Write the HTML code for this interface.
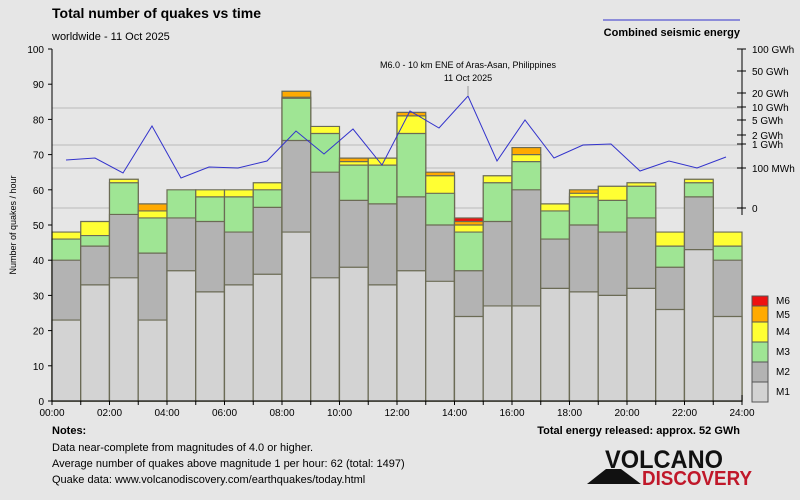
<!DOCTYPE html>
<html><head><style>body{margin:0;background:#e6e6e6}svg{display:block;font-family:"Liberation Sans",sans-serif}</style></head><body>
<svg width="800" height="500" xmlns="http://www.w3.org/2000/svg">
<rect width="800" height="500" fill="#e6e6e6"/>
<text x="52" y="18" font-size="14" font-weight="bold" fill="#000">Total number of quakes vs time</text>
<text x="52" y="40" font-size="11">worldwide - 11 Oct 2025</text>
<line x1="603" y1="20" x2="740" y2="20" stroke="#3333cc"/>
<text x="740" y="36" font-size="11" font-weight="bold" text-anchor="end">Combined seismic energy</text>
<g stroke="#d0d0d0" stroke-width="2"><line x1="52" y1="108" x2="742" y2="108"/><line x1="52" y1="145" x2="742" y2="145"/><line x1="52" y1="168" x2="742" y2="168"/><line x1="52" y1="208" x2="742" y2="208"/></g>
<defs><style>.r{fill:#ee1111}.o{fill:#ffaa00}.y{fill:#ffff33}.g{fill:#9fe594}.m{fill:#b3b3b3}.l{fill:#d3d3d3}.b rect{stroke:#6b6b55;stroke-width:1.2;vector-effect:non-scaling-stroke}</style></defs>
<g class="b" transform="translate(0,401) scale(1,-3.52)">
<g transform="translate(52,0)"><rect class="y" width="28.75" height="48"/><rect class="g" width="28.75" height="46"/><rect class="m" width="28.75" height="40"/><rect class="l" width="28.75" height="23"/></g>
<g transform="translate(80.75,0)"><rect class="y" width="28.75" height="51"/><rect class="g" width="28.75" height="47"/><rect class="m" width="28.75" height="44"/><rect class="l" width="28.75" height="33"/></g>
<g transform="translate(109.5,0)"><rect class="y" width="28.75" height="63"/><rect class="g" width="28.75" height="62"/><rect class="m" width="28.75" height="53"/><rect class="l" width="28.75" height="35"/></g>
<g transform="translate(138.25,0)"><rect class="o" width="28.75" height="56"/><rect class="y" width="28.75" height="54"/><rect class="g" width="28.75" height="52"/><rect class="m" width="28.75" height="42"/><rect class="l" width="28.75" height="23"/></g>
<g transform="translate(167,0)"><rect class="g" width="28.75" height="60"/><rect class="m" width="28.75" height="52"/><rect class="l" width="28.75" height="37"/></g>
<g transform="translate(195.75,0)"><rect class="y" width="28.75" height="60"/><rect class="g" width="28.75" height="58"/><rect class="m" width="28.75" height="51"/><rect class="l" width="28.75" height="31"/></g>
<g transform="translate(224.5,0)"><rect class="y" width="28.75" height="60"/><rect class="g" width="28.75" height="58"/><rect class="m" width="28.75" height="48"/><rect class="l" width="28.75" height="33"/></g>
<g transform="translate(253.25,0)"><rect class="y" width="28.75" height="62"/><rect class="g" width="28.75" height="60"/><rect class="m" width="28.75" height="55"/><rect class="l" width="28.75" height="36"/></g>
<g transform="translate(282,0)"><rect class="o" width="28.75" height="88"/><rect class="y" width="28.75" height="86.3"/><rect class="g" width="28.75" height="86"/><rect class="m" width="28.75" height="74"/><rect class="l" width="28.75" height="48"/></g>
<g transform="translate(310.75,0)"><rect class="y" width="28.75" height="78"/><rect class="g" width="28.75" height="76"/><rect class="m" width="28.75" height="65"/><rect class="l" width="28.75" height="35"/></g>
<g transform="translate(339.5,0)"><rect class="o" width="28.75" height="69"/><rect class="y" width="28.75" height="68"/><rect class="g" width="28.75" height="67"/><rect class="m" width="28.75" height="57"/><rect class="l" width="28.75" height="38"/></g>
<g transform="translate(368.25,0)"><rect class="y" width="28.75" height="69"/><rect class="g" width="28.75" height="67"/><rect class="m" width="28.75" height="56"/><rect class="l" width="28.75" height="33"/></g>
<g transform="translate(397,0)"><rect class="o" width="28.75" height="82"/><rect class="y" width="28.75" height="81"/><rect class="g" width="28.75" height="76"/><rect class="m" width="28.75" height="58"/><rect class="l" width="28.75" height="37"/></g>
<g transform="translate(425.75,0)"><rect class="o" width="28.75" height="65"/><rect class="y" width="28.75" height="64"/><rect class="g" width="28.75" height="59"/><rect class="m" width="28.75" height="50"/><rect class="l" width="28.75" height="34"/></g>
<g transform="translate(454.5,0)"><rect class="r" width="28.75" height="52"/><rect class="o" width="28.75" height="51"/><rect class="y" width="28.75" height="50"/><rect class="g" width="28.75" height="48"/><rect class="m" width="28.75" height="37"/><rect class="l" width="28.75" height="24"/></g>
<g transform="translate(483.25,0)"><rect class="y" width="28.75" height="64"/><rect class="g" width="28.75" height="62"/><rect class="m" width="28.75" height="51"/><rect class="l" width="28.75" height="27"/></g>
<g transform="translate(512,0)"><rect class="o" width="28.75" height="72"/><rect class="y" width="28.75" height="70"/><rect class="g" width="28.75" height="68"/><rect class="m" width="28.75" height="60"/><rect class="l" width="28.75" height="27"/></g>
<g transform="translate(540.75,0)"><rect class="y" width="28.75" height="56"/><rect class="g" width="28.75" height="54"/><rect class="m" width="28.75" height="46"/><rect class="l" width="28.75" height="32"/></g>
<g transform="translate(569.5,0)"><rect class="o" width="28.75" height="60"/><rect class="y" width="28.75" height="59"/><rect class="g" width="28.75" height="58"/><rect class="m" width="28.75" height="50"/><rect class="l" width="28.75" height="31"/></g>
<g transform="translate(598.25,0)"><rect class="y" width="28.75" height="61"/><rect class="g" width="28.75" height="57"/><rect class="m" width="28.75" height="48"/><rect class="l" width="28.75" height="30"/></g>
<g transform="translate(627,0)"><rect class="y" width="28.75" height="62"/><rect class="g" width="28.75" height="61"/><rect class="m" width="28.75" height="52"/><rect class="l" width="28.75" height="32"/></g>
<g transform="translate(655.75,0)"><rect class="y" width="28.75" height="48"/><rect class="g" width="28.75" height="44"/><rect class="m" width="28.75" height="38"/><rect class="l" width="28.75" height="26"/></g>
<g transform="translate(684.5,0)"><rect class="y" width="28.75" height="63"/><rect class="g" width="28.75" height="62"/><rect class="m" width="28.75" height="58"/><rect class="l" width="28.75" height="43"/></g>
<g transform="translate(713.25,0)"><rect class="y" width="28.75" height="48"/><rect class="g" width="28.75" height="44"/><rect class="m" width="28.75" height="40"/><rect class="l" width="28.75" height="24"/></g>
</g>
<polyline fill="none" stroke="#3333cc" stroke-width="1" points="66,160 95,158 123,173 152,126 181,178 209,167 238,168 267,161 296,131 324,154 353,129 382,165 410,111 439,128 468,96 497,161 525,120 554,158 583,145 611,144 640,171 669,161 697,168 726,157"/>
<line x1="468" y1="96" x2="468" y2="86" stroke="#999"/>
<text x="468" y="68" font-size="9" text-anchor="middle">M6.0 - 10 km ENE of Aras-Asan, Philippines</text>
<text x="468" y="81" font-size="9" text-anchor="middle">11 Oct 2025</text>
<g stroke="#000"><line x1="52" y1="49" x2="52" y2="405"/><line x1="48" y1="401" x2="742" y2="401"/><line x1="742" y1="49" x2="742" y2="215"/><line x1="742" y1="395" x2="742" y2="405"/></g>
<g stroke="#000">
<line x1="48" y1="401" x2="52" y2="401"/><line x1="48" y1="365.8" x2="52" y2="365.8"/><line x1="48" y1="330.6" x2="52" y2="330.6"/><line x1="48" y1="295.4" x2="52" y2="295.4"/><line x1="48" y1="260.2" x2="52" y2="260.2"/><line x1="48" y1="225" x2="52" y2="225"/><line x1="48" y1="189.8" x2="52" y2="189.8"/><line x1="48" y1="154.6" x2="52" y2="154.6"/><line x1="48" y1="119.4" x2="52" y2="119.4"/><line x1="48" y1="84.2" x2="52" y2="84.2"/><line x1="48" y1="49" x2="52" y2="49"/>
<line x1="80.75" y1="401" x2="80.75" y2="405"/><line x1="109.5" y1="401" x2="109.5" y2="405"/><line x1="138.25" y1="401" x2="138.25" y2="405"/><line x1="167" y1="401" x2="167" y2="405"/><line x1="195.75" y1="401" x2="195.75" y2="405"/><line x1="224.5" y1="401" x2="224.5" y2="405"/><line x1="253.25" y1="401" x2="253.25" y2="405"/><line x1="282" y1="401" x2="282" y2="405"/><line x1="310.75" y1="401" x2="310.75" y2="405"/><line x1="339.5" y1="401" x2="339.5" y2="405"/><line x1="368.25" y1="401" x2="368.25" y2="405"/><line x1="397" y1="401" x2="397" y2="405"/><line x1="425.75" y1="401" x2="425.75" y2="405"/><line x1="454.5" y1="401" x2="454.5" y2="405"/><line x1="483.25" y1="401" x2="483.25" y2="405"/><line x1="512" y1="401" x2="512" y2="405"/><line x1="540.75" y1="401" x2="540.75" y2="405"/><line x1="569.5" y1="401" x2="569.5" y2="405"/><line x1="598.25" y1="401" x2="598.25" y2="405"/><line x1="627" y1="401" x2="627" y2="405"/><line x1="655.75" y1="401" x2="655.75" y2="405"/><line x1="684.5" y1="401" x2="684.5" y2="405"/><line x1="713.25" y1="401" x2="713.25" y2="405"/>
<line x1="737" y1="49" x2="746" y2="49"/><line x1="737" y1="71" x2="746" y2="71"/><line x1="737" y1="93" x2="746" y2="93"/><line x1="737" y1="107" x2="746" y2="107"/><line x1="737" y1="120" x2="746" y2="120"/><line x1="737" y1="135" x2="746" y2="135"/><line x1="737" y1="144" x2="746" y2="144"/><line x1="737" y1="168" x2="746" y2="168"/><line x1="737" y1="208" x2="746" y2="208"/>
</g>
<g font-size="10" text-anchor="end">
<text x="44" y="405">0</text><text x="44" y="369.8">10</text><text x="44" y="334.6">20</text><text x="44" y="299.4">30</text><text x="44" y="264.2">40</text><text x="44" y="229">50</text><text x="44" y="193.8">60</text><text x="44" y="158.6">70</text><text x="44" y="123.4">80</text><text x="44" y="88.2">90</text><text x="44" y="53">100</text>
</g>
<g font-size="10" text-anchor="middle">
<text x="52" y="416">00:00</text><text x="109.5" y="416">02:00</text><text x="167" y="416">04:00</text><text x="224.5" y="416">06:00</text><text x="282" y="416">08:00</text><text x="339.5" y="416">10:00</text><text x="397" y="416">12:00</text><text x="454.5" y="416">14:00</text><text x="512" y="416">16:00</text><text x="569.5" y="416">18:00</text><text x="627" y="416">20:00</text><text x="684.5" y="416">22:00</text><text x="742" y="416">24:00</text>
</g>
<g font-size="10">
<text x="752" y="53">100 GWh</text><text x="752" y="75">50 GWh</text><text x="752" y="97">20 GWh</text><text x="752" y="111">10 GWh</text><text x="752" y="124">5 GWh</text><text x="752" y="139">2 GWh</text><text x="752" y="148">1 GWh</text><text x="752" y="172">100 MWh</text><text x="752" y="212">0</text>
</g>
<text x="16" y="225" font-size="9" transform="rotate(-90 16 225)" text-anchor="middle">Number of quakes / hour</text>
<g font-size="10">
<rect x="752" y="296" width="16" height="10" fill="#ee1111" stroke="#555"/><text x="776" y="304">M6</text>
<rect x="752" y="306" width="16" height="16" fill="#ffaa00" stroke="#555"/><text x="776" y="318">M5</text>
<rect x="752" y="322" width="16" height="20" fill="#ffff33" stroke="#555"/><text x="776" y="335">M4</text>
<rect x="752" y="342" width="16" height="20" fill="#9fe594" stroke="#555"/><text x="776" y="355">M3</text>
<rect x="752" y="362" width="16" height="20" fill="#b3b3b3" stroke="#555"/><text x="776" y="375">M2</text>
<rect x="752" y="382" width="16" height="20" fill="#d3d3d3" stroke="#555"/><text x="776" y="395">M1</text>
</g>
<text x="52" y="434" font-size="11" font-weight="bold">Notes:</text>
<text x="52" y="451" font-size="11">Data near-complete from magnitudes of 4.0 or higher.</text>
<text x="52" y="467" font-size="11">Average number of quakes above magnitude 1 per hour: 62 (total: 1497)</text>
<text x="52" y="483" font-size="11">Quake data: www.volcanodiscovery.com/earthquakes/today.html</text>
<text x="740" y="434" font-size="11" font-weight="bold" text-anchor="end">Total energy released: approx. 52 GWh</text>
<polygon points="587,484 606,469 621,469 641,484" fill="#111"/>
<text x="605" y="468" font-size="25" font-weight="bold" fill="#111" textLength="118" lengthAdjust="spacingAndGlyphs">VOLCANO</text>
<text x="642" y="485" font-size="20" font-weight="bold" fill="#c0182a" textLength="110" lengthAdjust="spacingAndGlyphs">DISCOVERY</text>
</svg></body></html>
